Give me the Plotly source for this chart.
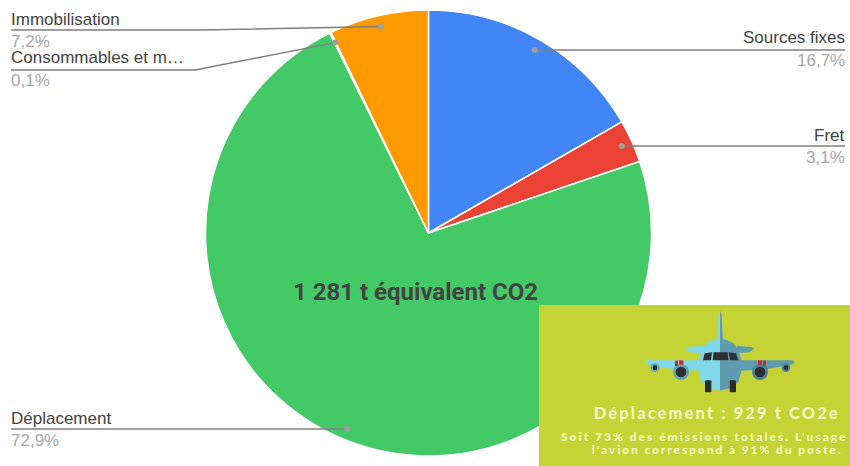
import math
import plotly.graph_objects as go

W, H = 850, 466
categories = ["Sources fixes", "Fret", "Déplacement", "Consommables et m…", "Immobilisation"]
values = [16.7, 3.1, 72.9, 0.1, 7.2]
value_labels = ["16,7%", "3,1%", "72,9%", "0,1%", "7,2%"]
colors = ["#4285f4", "#ea4335", "#43c966", "#f4b400", "#ff9900"]

CX, CY, R = 428.5, 233, 223
LEADER_R = 212

def px(x):
    return x / W
def py(y):
    return 1 - y / H

# label layout: x of text edge, anchor, y of name, y of value, leader y, elbow x
label_layout = {
    "Sources fixes": (845, "right", 38, 61, 50, None),
    "Fret": (845, "right", 135, 157, 146, None),
    "Déplacement": (11, "left", 418, 440, 429, None),
    "Consommables et m…": (11, "left", 58, 81, 70, 195),
    "Immobilisation": (11, "left", 19, 41, 30, 200),
}

fig = go.Figure(go.Pie(
    labels=categories, values=values, sort=False, direction="clockwise", rotation=0,
    marker=dict(colors=colors, line=dict(color="#ffffff", width=1.5)),
    textinfo="none", hoverinfo="skip", showlegend=False,
    domain=dict(x=[px(CX - R), px(CX + R)], y=[py(CY + R), py(CY - R)]),
))

shapes = []
annotations = []
total = sum(values)
cum = 0
PAD = 2
for cat, val, lab in zip(categories, values, value_labels):
    ang = 2 * math.pi * (cum + val / 2) / total
    cum += val
    dx = CX + LEADER_R * math.sin(ang)
    dy = CY - LEADER_R * math.cos(ang)
    tx, anchor, yn, yv, ly, elbow = label_layout[cat]
    pts = [(tx, ly)]
    if elbow is not None:
        pts.append((elbow, ly))
    else:
        dy = ly if abs(dy - ly) < 2 else dy
    pts.append((dx, dy))
    path = "M" + " L".join(f"{px(a):.5f},{py(b):.5f}" for a, b in pts)
    shapes.append(dict(type="path", xref="paper", yref="paper", path=path,
                       line=dict(color="#7f7f7f", width=1.5), layer="above"))
    r = 3
    shapes.append(dict(type="circle", xref="paper", yref="paper",
                       x0=px(dx - r), x1=px(dx + r), y0=py(dy + r), y1=py(dy - r),
                       fillcolor="#9e9e9e", line=dict(width=0), layer="above"))
    ax = tx + PAD if anchor == "right" else tx - PAD
    annotations.append(dict(x=px(ax), y=py(yn), xref="paper", yref="paper", text=cat, showarrow=False,
                            xanchor=anchor, yanchor="middle",
                            font=dict(family="Liberation Sans", size=17, color="#424242")))
    annotations.append(dict(x=px(ax), y=py(yv), xref="paper", yref="paper", text=lab, showarrow=False,
                            xanchor=anchor, yanchor="middle",
                            font=dict(family="Liberation Sans", size=17, color="#a8a8a8")))

annotations.append(dict(x=px(415), y=py(292), xref="paper", yref="paper", text="1 281 t équivalent CO2",
                        showarrow=False, xanchor="center", yanchor="middle",
                        font=dict(family="Roboto", size=24, color="#434343", weight="bold")))

# Panel
shapes.append(dict(type="rect", xref="paper", yref="paper", x0=px(539), x1=1, y0=0, y1=py(305),
                   fillcolor="#c5d335", line=dict(width=0), layer="above"))

# Plane, drawn in crop coordinates (3x, offset 540,300)
def zx(x):
    return px(540 + x / 3)
def zy(y):
    return py(300 + y / 3)
def poly(points, color):
    path = "M" + " L".join(f"{zx(a):.5f},{zy(b):.5f}" for a, b in points) + " Z"
    shapes.append(dict(type="path", xref="paper", yref="paper", path=path,
                       fillcolor=color, line=dict(width=0), layer="above"))
def disc(x, y, r, color):
    shapes.append(dict(type="circle", xref="paper", yref="paper",
                       x0=zx(x - r), x1=zx(x + r), y0=zy(y + r), y1=zy(y - r),
                       fillcolor=color, line=dict(width=0), layer="above"))
LIGHT, DARK, INK = "#80d8ea", "#5f9cb0", "#2e2e33"
AX = 540
def mirror(points):
    return [(2 * AX - a, b) for a, b in points]
half_parts = [
    [(540, 33), (535, 45), (531, 125), (540, 125)],
    [(437, 145), (447, 141), (490, 137), (490, 160), (450, 157)],
    [(318, 183), (322, 181), (480, 181), (480, 212), (400, 208), (322, 193), (317, 188)],
    [(540, 118), (520, 120), (500, 130), (485, 150), (476, 180), (476, 215), (485, 245), (505, 263), (540, 272)],
]
for part in half_parts:
    poly(part, LIGHT)
    poly(mirror(part), DARK)
for x, y, r1, r2 in [(423, 216, 24, 16), (345, 203, 13, 7)]:
    disc(x, y, r1, "#5fa6bc")
    disc(x, y, r2, INK)
    disc(2 * AX - x + 3, y, r1, "#4c8496")
    disc(2 * AX - x + 3, y, r2, INK)
for part in [[(405, 182), (414, 182), (414, 198), (405, 198)], [(417, 181), (430, 181), (430, 194), (417, 194)],
             [(654, 181), (666, 181), (666, 194), (654, 194)], [(669, 182), (678, 182), (678, 198), (669, 198)]]:
    poly(part, "#d8202c")
for part in [[(494, 160), (516, 157), (513, 181), (489, 181)], [(520, 157), (563, 157), (565, 181), (518, 181)],
             [(566, 157), (588, 160), (595, 181), (570, 181)]]:
    poly(part, INK)
for part in [[(497, 241), (512, 241), (514, 244), (514, 275), (512, 277), (497, 277), (495, 275), (495, 244)],
             [(571, 241), (586, 241), (588, 244), (588, 275), (586, 277), (571, 277), (569, 275), (569, 244)]]:
    poly(part, "#2b2b2b")

panel_font = "Lato"
annotations.append(dict(x=px(717), y=py(413), xref="paper", yref="paper", text="Déplacement : 929 t CO2e",
                        showarrow=False, xanchor="center", yanchor="middle",
                        font=dict(family=panel_font, size=16.5, color="#f3f6c0", weight=900)))
annotations.append(dict(x=px(704), y=py(436), xref="paper", yref="paper",
                        text="Soit 73% des émissions totales. L'usage",
                        showarrow=False, xanchor="center", yanchor="middle",
                        font=dict(family=panel_font, size=12, color="#f3f6c0", weight=900)))
annotations.append(dict(x=px(716.5), y=py(449.5), xref="paper", yref="paper",
                        text="l'avion correspond à 91% du poste.",
                        showarrow=False, xanchor="center", yanchor="middle",
                        font=dict(family=panel_font, size=12, color="#f3f6c0", weight=900)))

fig.update_layout(width=W, height=H, margin=dict(l=0, r=0, t=0, b=0),
                  paper_bgcolor="#ffffff", shapes=shapes, annotations=annotations)

post = """
document.body.style.margin='0';
document.querySelectorAll('.annotation-text').forEach(function(t){
  var s=t.textContent;
  if(s.indexOf('Déplacement :')===0){t.style.letterSpacing='2.1px';}
  else if(s.indexOf('Soit 73')===0){t.style.letterSpacing='2px';}
  else if(s.indexOf("l'avion")===0){t.style.letterSpacing='1.9px';}
});
"""
fig.write_html("out.html", post_script=post, config=dict(displayModeBar=False))
